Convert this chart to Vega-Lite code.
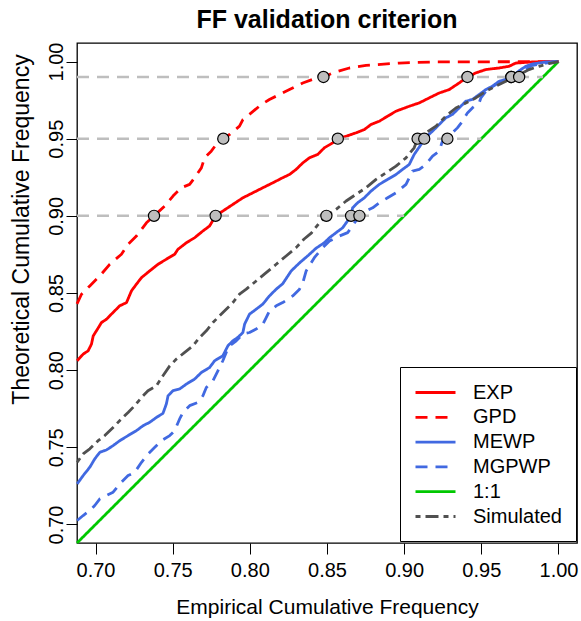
{
  "$schema": "https://vega.github.io/schema/vega-lite/v6.json",
  "width": 500,
  "height": 500,
  "autosize": {"type": "none"},
  "padding": {"left": 77, "top": 43, "right": 4, "bottom": 78},
  "background": "white",
  "title": {"text": "FF validation criterion", "font": "Liberation Sans", "fontSize": 25, "fontWeight": "bold", "color": "black", "anchor": "middle", "frame": "group", "baseline": "alphabetic", "offset": -11},
  "config": {
    "view": {"stroke": "black", "strokeWidth": 1.3},
    "axis": {"domain": false, "grid": false, "ticks": true, "tickColor": "black", "tickSize": 11, "tickWidth": 1, "labelFont": "Liberation Sans", "labelFontSize": 20, "labelColor": "black", "titleFont": "Liberation Sans", "titleFontSize": 21, "titleFontWeight": "normal", "titleColor": "black", "labelOverlap": false, "labelFlush": false}
  },
  "datasets": {
    "hl": [{"p": 0.90, "x0": 0.688}, {"p": 0.95, "x0": 0.688}, {"p": 0.99, "x0": 0.688}],
    "pts": [
      {"s": "GPD", "x": 0.7379, "y": 0.90}, {"s": "EXP", "x": 0.7778, "y": 0.90}, {"s": "Simulated", "x": 0.8496, "y": 0.90}, {"s": "MEWP", "x": 0.8656, "y": 0.90}, {"s": "MGPWP", "x": 0.871, "y": 0.90},
      {"s": "GPD", "x": 0.7828, "y": 0.95}, {"s": "EXP", "x": 0.857, "y": 0.95}, {"s": "Simulated", "x": 0.9087, "y": 0.95}, {"s": "MEWP", "x": 0.913, "y": 0.95}, {"s": "MGPWP", "x": 0.928, "y": 0.95},
      {"s": "GPD", "x": 0.8477, "y": 0.99}, {"s": "EXP", "x": 0.941, "y": 0.99}, {"s": "Simulated", "x": 0.9695, "y": 0.99}, {"s": "MEWP", "x": 0.9695, "y": 0.99}, {"s": "MGPWP", "x": 0.9745, "y": 0.99}
    ],
    "curves": [
      {"s": "1:1", "x": 0.688, "y": 0.688}, {"s": "1:1", "x": 1.0, "y": 1.0},
      {"s": "EXP", "x": 0.6881, "y": 0.8061}, {"s": "EXP", "x": 0.692, "y": 0.8104}, {"s": "EXP", "x": 0.6952, "y": 0.8125}, {"s": "EXP", "x": 0.6974, "y": 0.8169}, {"s": "EXP", "x": 0.6985, "y": 0.8222}, {"s": "EXP", "x": 0.7006, "y": 0.8255}, {"s": "EXP", "x": 0.7039, "y": 0.8309}, {"s": "EXP", "x": 0.7071, "y": 0.833}, {"s": "EXP", "x": 0.7103, "y": 0.8363}, {"s": "EXP", "x": 0.7157, "y": 0.8417}, {"s": "EXP", "x": 0.7201, "y": 0.8438}, {"s": "EXP", "x": 0.7233, "y": 0.8514}, {"s": "EXP", "x": 0.7265, "y": 0.8557}, {"s": "EXP", "x": 0.7298, "y": 0.86}, {"s": "EXP", "x": 0.7351, "y": 0.8643}, {"s": "EXP", "x": 0.7405, "y": 0.8686}, {"s": "EXP", "x": 0.7459, "y": 0.8719}, {"s": "EXP", "x": 0.7513, "y": 0.8751}, {"s": "EXP", "x": 0.7534, "y": 0.8783}, {"s": "EXP", "x": 0.7589, "y": 0.8826}, {"s": "EXP", "x": 0.7642, "y": 0.8858}, {"s": "EXP", "x": 0.7696, "y": 0.8902}, {"s": "EXP", "x": 0.7739, "y": 0.8934}, {"s": "EXP", "x": 0.7778, "y": 0.9}, {"s": "EXP", "x": 0.7825, "y": 0.9031}, {"s": "EXP", "x": 0.789, "y": 0.9074}, {"s": "EXP", "x": 0.7955, "y": 0.9117}, {"s": "EXP", "x": 0.8019, "y": 0.9149}, {"s": "EXP", "x": 0.8084, "y": 0.9182}, {"s": "EXP", "x": 0.8149, "y": 0.9214}, {"s": "EXP", "x": 0.8213, "y": 0.9247}, {"s": "EXP", "x": 0.8257, "y": 0.9268}, {"s": "EXP", "x": 0.83, "y": 0.9301}, {"s": "EXP", "x": 0.8343, "y": 0.9343}, {"s": "EXP", "x": 0.8386, "y": 0.9376}, {"s": "EXP", "x": 0.844, "y": 0.9398}, {"s": "EXP", "x": 0.8483, "y": 0.9441}, {"s": "EXP", "x": 0.8537, "y": 0.9473}, {"s": "EXP", "x": 0.857, "y": 0.95}, {"s": "EXP", "x": 0.8624, "y": 0.9516}, {"s": "EXP", "x": 0.8688, "y": 0.9538}, {"s": "EXP", "x": 0.8742, "y": 0.9559}, {"s": "EXP", "x": 0.8785, "y": 0.9592}, {"s": "EXP", "x": 0.8839, "y": 0.9613}, {"s": "EXP", "x": 0.8893, "y": 0.9646}, {"s": "EXP", "x": 0.8947, "y": 0.9678}, {"s": "EXP", "x": 0.9033, "y": 0.971}, {"s": "EXP", "x": 0.9098, "y": 0.9732}, {"s": "EXP", "x": 0.9162, "y": 0.9764}, {"s": "EXP", "x": 0.9227, "y": 0.9796}, {"s": "EXP", "x": 0.9292, "y": 0.9818}, {"s": "EXP", "x": 0.9356, "y": 0.9861}, {"s": "EXP", "x": 0.941, "y": 0.99}, {"s": "EXP", "x": 0.9464, "y": 0.9926}, {"s": "EXP", "x": 0.9529, "y": 0.9948}, {"s": "EXP", "x": 0.9615, "y": 0.9958}, {"s": "EXP", "x": 0.968, "y": 0.9969}, {"s": "EXP", "x": 0.9723, "y": 0.999}, {"s": "EXP", "x": 0.9831, "y": 0.9997}, {"s": "EXP", "x": 1.0, "y": 1.0},
      {"s": "GPD", "x": 0.688, "y": 0.843}, {"s": "GPD", "x": 0.6909, "y": 0.8492}, {"s": "GPD", "x": 0.6963, "y": 0.8546}, {"s": "GPD", "x": 0.7028, "y": 0.8611}, {"s": "GPD", "x": 0.7092, "y": 0.8686}, {"s": "GPD", "x": 0.7168, "y": 0.8751}, {"s": "GPD", "x": 0.7211, "y": 0.8816}, {"s": "GPD", "x": 0.7265, "y": 0.8869}, {"s": "GPD", "x": 0.733, "y": 0.8955}, {"s": "GPD", "x": 0.7379, "y": 0.9}, {"s": "GPD", "x": 0.7448, "y": 0.9063}, {"s": "GPD", "x": 0.7502, "y": 0.9128}, {"s": "GPD", "x": 0.7556, "y": 0.9182}, {"s": "GPD", "x": 0.761, "y": 0.9204}, {"s": "GPD", "x": 0.7642, "y": 0.9247}, {"s": "GPD", "x": 0.7686, "y": 0.9311}, {"s": "GPD", "x": 0.7707, "y": 0.9376}, {"s": "GPD", "x": 0.775, "y": 0.9419}, {"s": "GPD", "x": 0.7782, "y": 0.9462}, {"s": "GPD", "x": 0.7828, "y": 0.95}, {"s": "GPD", "x": 0.7869, "y": 0.9527}, {"s": "GPD", "x": 0.7933, "y": 0.9581}, {"s": "GPD", "x": 0.7955, "y": 0.9624}, {"s": "GPD", "x": 0.8009, "y": 0.9667}, {"s": "GPD", "x": 0.8074, "y": 0.9721}, {"s": "GPD", "x": 0.8127, "y": 0.9754}, {"s": "GPD", "x": 0.8192, "y": 0.9786}, {"s": "GPD", "x": 0.8257, "y": 0.9818}, {"s": "GPD", "x": 0.8343, "y": 0.9861}, {"s": "GPD", "x": 0.8419, "y": 0.9889}, {"s": "GPD", "x": 0.8477, "y": 0.99}, {"s": "GPD", "x": 0.8537, "y": 0.9926}, {"s": "GPD", "x": 0.8645, "y": 0.9958}, {"s": "GPD", "x": 0.8753, "y": 0.9975}, {"s": "GPD", "x": 0.8968, "y": 0.999}, {"s": "GPD", "x": 0.9184, "y": 0.9997}, {"s": "GPD", "x": 0.9507, "y": 0.9998}, {"s": "GPD", "x": 0.98, "y": 0.9999}, {"s": "GPD", "x": 1.0, "y": 1.0},
      {"s": "MEWP", "x": 0.6881, "y": 0.7263}, {"s": "MEWP", "x": 0.692, "y": 0.7317}, {"s": "MEWP", "x": 0.6963, "y": 0.7371}, {"s": "MEWP", "x": 0.6995, "y": 0.7425}, {"s": "MEWP", "x": 0.7028, "y": 0.7468}, {"s": "MEWP", "x": 0.7071, "y": 0.7483}, {"s": "MEWP", "x": 0.7114, "y": 0.7511}, {"s": "MEWP", "x": 0.7157, "y": 0.7543}, {"s": "MEWP", "x": 0.7211, "y": 0.7576}, {"s": "MEWP", "x": 0.7265, "y": 0.7608}, {"s": "MEWP", "x": 0.7308, "y": 0.764}, {"s": "MEWP", "x": 0.7351, "y": 0.7662}, {"s": "MEWP", "x": 0.7395, "y": 0.7694}, {"s": "MEWP", "x": 0.7437, "y": 0.772}, {"s": "MEWP", "x": 0.7459, "y": 0.7781}, {"s": "MEWP", "x": 0.747, "y": 0.7834}, {"s": "MEWP", "x": 0.7502, "y": 0.7867}, {"s": "MEWP", "x": 0.7545, "y": 0.7878}, {"s": "MEWP", "x": 0.7589, "y": 0.791}, {"s": "MEWP", "x": 0.7642, "y": 0.7942}, {"s": "MEWP", "x": 0.7686, "y": 0.7985}, {"s": "MEWP", "x": 0.7739, "y": 0.8017}, {"s": "MEWP", "x": 0.7772, "y": 0.8061}, {"s": "MEWP", "x": 0.7825, "y": 0.8093}, {"s": "MEWP", "x": 0.7858, "y": 0.8158}, {"s": "MEWP", "x": 0.789, "y": 0.819}, {"s": "MEWP", "x": 0.7922, "y": 0.8212}, {"s": "MEWP", "x": 0.7955, "y": 0.8244}, {"s": "MEWP", "x": 0.7966, "y": 0.8298}, {"s": "MEWP", "x": 0.7998, "y": 0.8363}, {"s": "MEWP", "x": 0.8041, "y": 0.8395}, {"s": "MEWP", "x": 0.8084, "y": 0.8428}, {"s": "MEWP", "x": 0.8127, "y": 0.8481}, {"s": "MEWP", "x": 0.8171, "y": 0.8525}, {"s": "MEWP", "x": 0.8213, "y": 0.856}, {"s": "MEWP", "x": 0.8268, "y": 0.8643}, {"s": "MEWP", "x": 0.8322, "y": 0.8695}, {"s": "MEWP", "x": 0.838, "y": 0.8745}, {"s": "MEWP", "x": 0.8429, "y": 0.879}, {"s": "MEWP", "x": 0.8483, "y": 0.8826}, {"s": "MEWP", "x": 0.8516, "y": 0.8858}, {"s": "MEWP", "x": 0.8559, "y": 0.8891}, {"s": "MEWP", "x": 0.8602, "y": 0.8923}, {"s": "MEWP", "x": 0.8656, "y": 0.9}, {"s": "MEWP", "x": 0.8666, "y": 0.9052}, {"s": "MEWP", "x": 0.8699, "y": 0.9085}, {"s": "MEWP", "x": 0.8742, "y": 0.9117}, {"s": "MEWP", "x": 0.8785, "y": 0.916}, {"s": "MEWP", "x": 0.8839, "y": 0.9204}, {"s": "MEWP", "x": 0.8893, "y": 0.9236}, {"s": "MEWP", "x": 0.8947, "y": 0.9268}, {"s": "MEWP", "x": 0.899, "y": 0.9301}, {"s": "MEWP", "x": 0.9033, "y": 0.9333}, {"s": "MEWP", "x": 0.9065, "y": 0.9398}, {"s": "MEWP", "x": 0.9109, "y": 0.9462}, {"s": "MEWP", "x": 0.913, "y": 0.95}, {"s": "MEWP", "x": 0.9184, "y": 0.9549}, {"s": "MEWP", "x": 0.9227, "y": 0.9592}, {"s": "MEWP", "x": 0.927, "y": 0.9635}, {"s": "MEWP", "x": 0.9313, "y": 0.9657}, {"s": "MEWP", "x": 0.9356, "y": 0.9699}, {"s": "MEWP", "x": 0.94, "y": 0.9743}, {"s": "MEWP", "x": 0.9442, "y": 0.9754}, {"s": "MEWP", "x": 0.9486, "y": 0.9786}, {"s": "MEWP", "x": 0.9529, "y": 0.9818}, {"s": "MEWP", "x": 0.9572, "y": 0.984}, {"s": "MEWP", "x": 0.9615, "y": 0.9872}, {"s": "MEWP", "x": 0.9659, "y": 0.9885}, {"s": "MEWP", "x": 0.9695, "y": 0.99}, {"s": "MEWP", "x": 0.9745, "y": 0.994}, {"s": "MEWP", "x": 0.9788, "y": 0.9969}, {"s": "MEWP", "x": 0.9831, "y": 0.9984}, {"s": "MEWP", "x": 0.9917, "y": 0.9997}, {"s": "MEWP", "x": 1.0, "y": 1.0},
      {"s": "MGPWP", "x": 0.6881, "y": 0.7026}, {"s": "MGPWP", "x": 0.692, "y": 0.7058}, {"s": "MGPWP", "x": 0.6963, "y": 0.7091}, {"s": "MGPWP", "x": 0.6995, "y": 0.7123}, {"s": "MGPWP", "x": 0.7028, "y": 0.7166}, {"s": "MGPWP", "x": 0.7071, "y": 0.7188}, {"s": "MGPWP", "x": 0.7114, "y": 0.7209}, {"s": "MGPWP", "x": 0.7157, "y": 0.7263}, {"s": "MGPWP", "x": 0.7211, "y": 0.7317}, {"s": "MGPWP", "x": 0.7254, "y": 0.7338}, {"s": "MGPWP", "x": 0.7298, "y": 0.7403}, {"s": "MGPWP", "x": 0.734, "y": 0.7457}, {"s": "MGPWP", "x": 0.7384, "y": 0.75}, {"s": "MGPWP", "x": 0.7427, "y": 0.7543}, {"s": "MGPWP", "x": 0.7481, "y": 0.7576}, {"s": "MGPWP", "x": 0.7513, "y": 0.7608}, {"s": "MGPWP", "x": 0.7545, "y": 0.7684}, {"s": "MGPWP", "x": 0.7567, "y": 0.7726}, {"s": "MGPWP", "x": 0.761, "y": 0.777}, {"s": "MGPWP", "x": 0.7664, "y": 0.7791}, {"s": "MGPWP", "x": 0.7696, "y": 0.7834}, {"s": "MGPWP", "x": 0.7718, "y": 0.7888}, {"s": "MGPWP", "x": 0.7761, "y": 0.7931}, {"s": "MGPWP", "x": 0.7793, "y": 0.7996}, {"s": "MGPWP", "x": 0.7825, "y": 0.8061}, {"s": "MGPWP", "x": 0.7847, "y": 0.8115}, {"s": "MGPWP", "x": 0.7869, "y": 0.8158}, {"s": "MGPWP", "x": 0.7912, "y": 0.819}, {"s": "MGPWP", "x": 0.7955, "y": 0.8234}, {"s": "MGPWP", "x": 0.7998, "y": 0.8244}, {"s": "MGPWP", "x": 0.8041, "y": 0.8266}, {"s": "MGPWP", "x": 0.8084, "y": 0.8298}, {"s": "MGPWP", "x": 0.8106, "y": 0.8341}, {"s": "MGPWP", "x": 0.8127, "y": 0.8384}, {"s": "MGPWP", "x": 0.8171, "y": 0.8417}, {"s": "MGPWP", "x": 0.8213, "y": 0.8438}, {"s": "MGPWP", "x": 0.8278, "y": 0.8481}, {"s": "MGPWP", "x": 0.8322, "y": 0.8525}, {"s": "MGPWP", "x": 0.8343, "y": 0.8565}, {"s": "MGPWP", "x": 0.8365, "y": 0.8643}, {"s": "MGPWP", "x": 0.8418, "y": 0.8729}, {"s": "MGPWP", "x": 0.8472, "y": 0.8794}, {"s": "MGPWP", "x": 0.8516, "y": 0.8837}, {"s": "MGPWP", "x": 0.858, "y": 0.8869}, {"s": "MGPWP", "x": 0.8634, "y": 0.8891}, {"s": "MGPWP", "x": 0.871, "y": 0.9}, {"s": "MGPWP", "x": 0.8753, "y": 0.9031}, {"s": "MGPWP", "x": 0.8796, "y": 0.9052}, {"s": "MGPWP", "x": 0.8839, "y": 0.9085}, {"s": "MGPWP", "x": 0.8893, "y": 0.9117}, {"s": "MGPWP", "x": 0.8947, "y": 0.9149}, {"s": "MGPWP", "x": 0.9012, "y": 0.9204}, {"s": "MGPWP", "x": 0.9054, "y": 0.929}, {"s": "MGPWP", "x": 0.9098, "y": 0.9301}, {"s": "MGPWP", "x": 0.9141, "y": 0.9333}, {"s": "MGPWP", "x": 0.9184, "y": 0.9387}, {"s": "MGPWP", "x": 0.9227, "y": 0.9419}, {"s": "MGPWP", "x": 0.9248, "y": 0.9484}, {"s": "MGPWP", "x": 0.928, "y": 0.95}, {"s": "MGPWP", "x": 0.9313, "y": 0.9538}, {"s": "MGPWP", "x": 0.9345, "y": 0.957}, {"s": "MGPWP", "x": 0.9378, "y": 0.9613}, {"s": "MGPWP", "x": 0.941, "y": 0.9667}, {"s": "MGPWP", "x": 0.9442, "y": 0.9699}, {"s": "MGPWP", "x": 0.9486, "y": 0.9732}, {"s": "MGPWP", "x": 0.9497, "y": 0.9764}, {"s": "MGPWP", "x": 0.9529, "y": 0.9807}, {"s": "MGPWP", "x": 0.9561, "y": 0.9829}, {"s": "MGPWP", "x": 0.9594, "y": 0.9851}, {"s": "MGPWP", "x": 0.9637, "y": 0.9872}, {"s": "MGPWP", "x": 0.9669, "y": 0.9893}, {"s": "MGPWP", "x": 0.9745, "y": 0.99}, {"s": "MGPWP", "x": 0.978, "y": 0.9945}, {"s": "MGPWP", "x": 0.9831, "y": 0.9975}, {"s": "MGPWP", "x": 0.9917, "y": 0.999}, {"s": "MGPWP", "x": 1.0, "y": 1.0},
      {"s": "Simulated", "x": 0.6881, "y": 0.7403}, {"s": "Simulated", "x": 0.692, "y": 0.7457}, {"s": "Simulated", "x": 0.6963, "y": 0.749}, {"s": "Simulated", "x": 0.7017, "y": 0.7543}, {"s": "Simulated", "x": 0.706, "y": 0.7576}, {"s": "Simulated", "x": 0.7114, "y": 0.7629}, {"s": "Simulated", "x": 0.7168, "y": 0.7684}, {"s": "Simulated", "x": 0.7211, "y": 0.7726}, {"s": "Simulated", "x": 0.7254, "y": 0.777}, {"s": "Simulated", "x": 0.7298, "y": 0.7823}, {"s": "Simulated", "x": 0.734, "y": 0.7867}, {"s": "Simulated", "x": 0.7395, "y": 0.7899}, {"s": "Simulated", "x": 0.7437, "y": 0.7964}, {"s": "Simulated", "x": 0.7481, "y": 0.8028}, {"s": "Simulated", "x": 0.7524, "y": 0.8072}, {"s": "Simulated", "x": 0.7578, "y": 0.8115}, {"s": "Simulated", "x": 0.7631, "y": 0.8158}, {"s": "Simulated", "x": 0.7675, "y": 0.8212}, {"s": "Simulated", "x": 0.7718, "y": 0.8255}, {"s": "Simulated", "x": 0.7761, "y": 0.8309}, {"s": "Simulated", "x": 0.7804, "y": 0.8352}, {"s": "Simulated", "x": 0.7847, "y": 0.8395}, {"s": "Simulated", "x": 0.789, "y": 0.8438}, {"s": "Simulated", "x": 0.7933, "y": 0.8492}, {"s": "Simulated", "x": 0.7977, "y": 0.8525}, {"s": "Simulated", "x": 0.8041, "y": 0.8578}, {"s": "Simulated", "x": 0.8106, "y": 0.8632}, {"s": "Simulated", "x": 0.8171, "y": 0.8686}, {"s": "Simulated", "x": 0.8235, "y": 0.874}, {"s": "Simulated", "x": 0.83, "y": 0.8794}, {"s": "Simulated", "x": 0.835, "y": 0.8848}, {"s": "Simulated", "x": 0.84, "y": 0.889}, {"s": "Simulated", "x": 0.8451, "y": 0.8955}, {"s": "Simulated", "x": 0.8496, "y": 0.9}, {"s": "Simulated", "x": 0.8559, "y": 0.9042}, {"s": "Simulated", "x": 0.8624, "y": 0.9096}, {"s": "Simulated", "x": 0.8688, "y": 0.9139}, {"s": "Simulated", "x": 0.8753, "y": 0.9182}, {"s": "Simulated", "x": 0.8818, "y": 0.9236}, {"s": "Simulated", "x": 0.8882, "y": 0.9279}, {"s": "Simulated", "x": 0.8947, "y": 0.9322}, {"s": "Simulated", "x": 0.9012, "y": 0.9376}, {"s": "Simulated", "x": 0.9065, "y": 0.9441}, {"s": "Simulated", "x": 0.9087, "y": 0.95}, {"s": "Simulated", "x": 0.9141, "y": 0.9538}, {"s": "Simulated", "x": 0.9206, "y": 0.9581}, {"s": "Simulated", "x": 0.927, "y": 0.9646}, {"s": "Simulated", "x": 0.9335, "y": 0.9699}, {"s": "Simulated", "x": 0.94, "y": 0.9732}, {"s": "Simulated", "x": 0.9464, "y": 0.9764}, {"s": "Simulated", "x": 0.9529, "y": 0.9807}, {"s": "Simulated", "x": 0.9594, "y": 0.984}, {"s": "Simulated", "x": 0.9659, "y": 0.9872}, {"s": "Simulated", "x": 0.9695, "y": 0.99}, {"s": "Simulated", "x": 0.9745, "y": 0.9915}, {"s": "Simulated", "x": 0.9809, "y": 0.9948}, {"s": "Simulated", "x": 0.9874, "y": 0.9969}, {"s": "Simulated", "x": 0.9938, "y": 0.9987}, {"s": "Simulated", "x": 1.0, "y": 1.0}
    ]
  },
  "layer": [
    {
      "data": {"name": "curves"},
      "mark": {"type": "line", "strokeJoin": "round", "strokeCap": "butt"},
      "encoding": {
        "x": {"field": "x", "type": "quantitative", "scale": {"domain": [0.688, 1.012], "nice": false, "zero": false},
          "axis": {"values": [0.7, 0.75, 0.8, 0.85, 0.9, 0.95, 1.0], "format": ".2f", "labelPadding": 6, "title": "Empirical Cumulative Frequency", "titleBaseline": "alphabetic", "titleY": 70}},
        "y": {"field": "y", "type": "quantitative", "scale": {"domain": [0.688, 1.012], "nice": false, "zero": false},
          "axis": {"values": [0.7, 0.75, 0.8, 0.85, 0.9, 0.95, 1.0], "format": ".2f", "labelAngle": -90, "labelAlign": "center", "labelBaseline": "alphabetic", "labelPadding": 3.5, "title": "Theoretical Cumulative Frequency", "titleAngle": -90, "titleBaseline": "alphabetic", "titleAlign": "center", "titleX": -49, "titleY": 186, "titleFontSize": 23}},
        "color": {"field": "s", "type": "nominal",
          "scale": {"domain": ["EXP", "GPD", "MEWP", "MGPWP", "1:1", "Simulated"], "range": ["#FF0000", "#FF0000", "#4169E1", "#4169E1", "#00C800", "#505050"]},
          "legend": {"orient": "none", "legendX": 323, "legendY": 324, "title": null, "symbolType": "M-1,0L3,0", "symbolSize": 400, "symbolStrokeWidth": 3, "labelFont": "Liberation Sans", "labelFontSize": 20, "labelColor": "black", "labelOffset": 36, "rowPadding": 2.8, "padding": 14, "strokeColor": "black", "fillColor": "white", "labelLimit": 300}},
        "strokeDash": {"field": "s", "type": "nominal",
          "scale": {"domain": ["EXP", "GPD", "MEWP", "MGPWP", "1:1", "Simulated"], "range": [[1, 0], [12, 8], [1, 0], [12, 8], [1, 0], [5, 5, 13, 5]]},
          "legend": {"orient": "none", "legendX": 323, "legendY": 324, "title": null, "symbolType": "M-1,0L3,0", "symbolSize": 400, "symbolStrokeWidth": 3, "labelFont": "Liberation Sans", "labelFontSize": 20, "labelColor": "black", "labelOffset": 36, "rowPadding": 2.8, "padding": 14, "strokeColor": "black", "fillColor": "white", "labelLimit": 300}},
        "strokeWidth": {"field": "s", "type": "ordinal",
          "scale": {"domain": ["EXP", "GPD", "MEWP", "MGPWP", "1:1", "Simulated"], "range": [2.8, 2.8, 2.6, 2.6, 4, 3]},
          "legend": null}
      }
    },
    {
      "data": {"name": "hl"},
      "mark": {"type": "rule", "color": "#BEBEBE", "strokeWidth": 2.5, "strokeDash": [12, 8]},
      "encoding": {
        "x": {"field": "x0", "type": "quantitative"},
        "x2": {"field": "p"},
        "y": {"field": "p", "type": "quantitative"}
      }
    },
    {
      "data": {"name": "pts"},
      "mark": {"type": "circle", "size": 125, "color": "#BEBEBE", "stroke": "black", "strokeWidth": 1.2, "opacity": 1},
      "encoding": {
        "x": {"field": "x", "type": "quantitative"},
        "y": {"field": "y", "type": "quantitative"}
      }
    }
  ]
}
